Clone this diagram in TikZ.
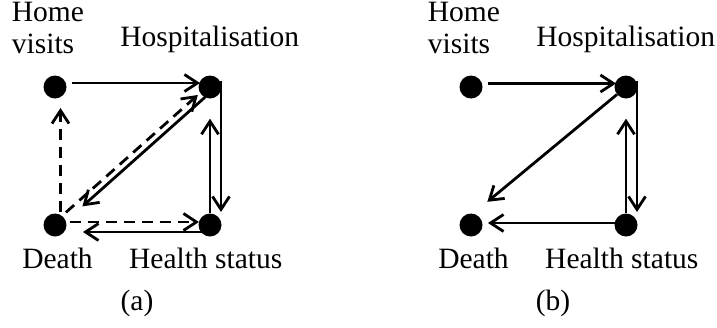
\documentclass[tikz,border=0pt]{standalone}
\usepackage{fontspec}
\setmainfont{Liberation Serif}
\usetikzlibrary{arrows.meta}

\tikzset{
  state/.style={circle, fill, inner sep=0pt, minimum size=23pt},
  lbl/.style={inner sep=0pt},
  link/.style={line width=2.8pt, -{Straight Barb[length=13pt,width=17pt]}},
  dlink/.style={link, dash pattern=on 11pt off 7pt},
}

\begin{document}
\begin{tikzpicture}[x=1pt, y=-1pt, font=\fontsize{29.5}{31.6}\selectfont]
  \useasboundingbox (0,0) rectangle (717,327);

  \foreach \p/\dx in {a/0, b/416} {
    \begin{scope}[xshift=\dx]
      \node (hv\p) at (55, 87) [state] {};
      \node (hs\p) at (210, 87) [state] {};
      \node (de\p) at (55, 225) [state] {};
      \node (ht\p) at (210, 225) [state] {};
      \node (lhv\p) at (11.7, 53.3) [lbl, anchor=base west, align=left] {Home\\visits};
      \node (lhs\p) at (209.7, 46.7) [lbl, anchor=base] {Hospitalisation};
      \node (lde\p) at (57.5, 268.3) [lbl, anchor=base] {Death};
      \node (lht\p) at (205.8, 268.3) [lbl, anchor=base] {Health status};
      \node (cap\p) at (137, 310.5) [lbl, anchor=base] {(\p)};
    \end{scope}
  }

  \draw[link, shorten <=17pt, shorten >=10pt] ([shift={(0,-4)}]hva.center) -- ([shift={(0,-4)}]hsa.center);
  \draw[dlink, shorten <=13pt, shorten >=21pt] ([shift={(5.5,0)}]dea.center) -- ([shift={(5.5,0)}]hva.center);
  \draw[dlink, shorten <=16pt, shorten >=15pt] ([shift={(-1,-2)}]dea.center) -- ([shift={(-1,-2)}]hsa.center);
  \draw[link, shorten <=9pt, shorten >=34pt] ([shift={(2,4)}]hsa.center) -- ([shift={(2,4)}]dea.center);
  \draw[link, shorten >=13pt] ([shift={(11,-6)}]hsa.center) -- ([shift={(11,0)}]hta.center);
  \draw[link, shorten >=20pt] (hta) -- (hsa);
  \draw[dlink, shorten <=15pt, shorten >=11pt] ([shift={(0,-3)}]dea.center) -- ([shift={(0,-3)}]hta.center);
  \draw[link, shorten >=28pt] ([shift={(0,7)}]hta.center) -- ([shift={(0,7)}]dea.center);

  \draw[link, shorten <=17pt, shorten >=10pt] ([shift={(0,-3.5)}]hvb.center) -- ([shift={(0,-3.5)}]hsb.center);
  \draw[link, shorten >=16pt] (hsb) -- ([shift={(4,-13)}]deb.center);
  \draw[link, shorten >=13pt] ([shift={(11,-6)}]hsb.center) -- ([shift={(11,0)}]htb.center);
  \draw[link, shorten >=20pt] (htb) -- (hsb);
  \draw[link, shorten >=17pt] ([shift={(0,-2)}]htb.center) -- ([shift={(0,-2)}]deb.center);
\end{tikzpicture}
\end{document}
